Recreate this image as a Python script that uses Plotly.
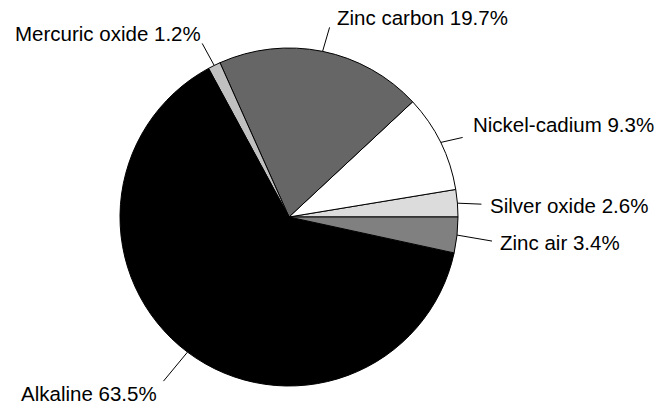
import math
import plotly.graph_objects as go

labels = ["Silver oxide", "Nickel-cadium", "Zinc carbon", "Mercuric oxide", "Alkaline", "Zinc air"]
values = [2.6, 9.3, 19.7, 1.2, 63.5, 3.4]
colors = ["#dcdcdc", "#ffffff", "#666666", "#c0c0c0", "#000000", "#808080"]

# leader line end offset from slice edge (px), text offset from line end (px), text anchor
leader = [(24, 1), (22, -5), (7, -24), (-12, -22), (-24, 29), (35, 6)]
text_off = [(7, 1), (8, -12.5), (5, -9.5), (1, -10), (-4, 12), (6, 1)]
anchors = ["left", "left", "left", "right", "right", "left"]

W, H = 660, 406
CX, CY, R = 289, 217, 169
ml, mr, mt, mb = CX - R, W - (CX + R), CY - R, H - (CY + R)
PW, PH = W - ml - mr, H - mt - mb

def to_paper(px, py):
    return (px - ml) / PW, (H - mb - py) / PH

total = sum(values)
# counterclockwise pies in plotly end the first slice at `rotation`; start it at 3 o'clock
rotation = 90 - values[0] / total * 360

fig = go.Figure(go.Pie(
    labels=labels, values=values, sort=False, direction="counterclockwise",
    rotation=rotation, textinfo="none", hoverinfo="label+percent",
    marker=dict(colors=colors, line=dict(color="#000000", width=1)),
    showlegend=False,
))

cum = 0.0
shapes, annotations = [], []
for lab, v, (ldx, ldy), (tdx, tdy), anc in zip(labels, values, leader, text_off, anchors):
    mid = (cum + v / 2) / total * 2 * math.pi
    cum += v
    ex, ey = CX + R * math.cos(mid), CY - R * math.sin(mid)
    lx, ly = ex + ldx, ey + ldy
    x0, y0 = to_paper(ex, ey)
    x1, y1 = to_paper(lx, ly)
    shapes.append(dict(type="line", xref="paper", yref="paper", x0=x0, y0=y0, x1=x1, y1=y1,
                       line=dict(color="#000000", width=1)))
    tx, ty = to_paper(lx + tdx, ly + tdy)
    annotations.append(dict(x=tx, y=ty, xref="paper", yref="paper", showarrow=False,
                            text=f"{lab} {v}%", xanchor=anc, yanchor="middle",
                            font=dict(family="Liberation Sans, Arial, sans-serif", size=20.5, color="#000000")))

fig.update_layout(
    width=W, height=H, margin=dict(l=ml, r=mr, t=mt, b=mb, autoexpand=False),
    paper_bgcolor="#ffffff", plot_bgcolor="#ffffff",
    shapes=shapes, annotations=annotations,
)
fig.write_html("out.html")
